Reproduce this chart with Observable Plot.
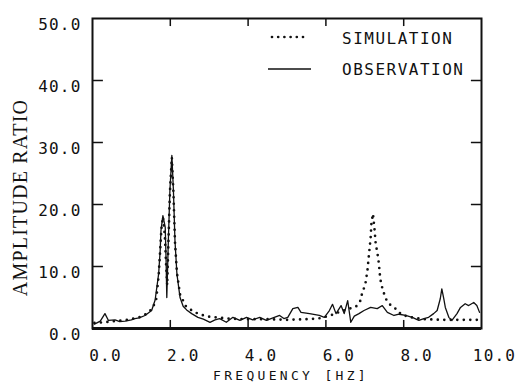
<!DOCTYPE html>
<html><head><meta charset="utf-8">
<script src="https://cdn.jsdelivr.net/npm/d3@7"></script>
<script src="https://cdn.jsdelivr.net/npm/@observablehq/plot@0.6"></script>
<style>
body{margin:0;background:#fff;}
#wrap{width:516px;height:383px;}
</style></head><body><div id="wrap"></div>
<script>
// tick values
const xTicks = [0, 2, 4, 6, 8, 10];
const yTicks = [0, 10, 20, 30, 40, 50];
const xInner = [2, 4, 6, 8];
const yInner = [10, 20, 30, 40];
const seriesNames = ["SIMULATION", "OBSERVATION"];
const xTitle = "FREQUENCY [HZ]";
const yTitle = "AMPLITUDE RATIO";

// [frequency Hz, amplitude ratio]
const observation = [
 [0.05,0.7],[0.2,1.2],[0.32,2.4],[0.41,1.3],[0.58,1.4],[0.7,1.1],[0.84,1.2],[1.0,1.4],[1.09,1.6],[1.2,1.7],
 [1.35,2.1],[1.52,2.9],[1.61,4.6],[1.70,8.8],[1.74,12.6],[1.76,15.8],[1.81,18.2],[1.87,16.3],[1.89,11.5],[1.91,5.0],
 [1.95,14.2],[1.99,22.3],[2.04,27.9],[2.08,22.3],[2.12,14.2],[2.17,8.8],[2.25,5.0],[2.33,3.6],[2.42,3.0],[2.55,2.4],
 [2.71,1.8],[2.85,1.5],[3.02,1.0],[3.15,1.4],[3.27,1.6],[3.44,1.0],[3.61,1.8],[3.79,1.3],[3.96,1.8],[4.12,1.4],
 [4.30,1.8],[4.47,1.3],[4.64,1.7],[4.81,2.1],[4.92,1.6],[5.02,1.8],[5.15,3.2],[5.28,3.4],[5.36,2.6],[5.58,2.4],
 [5.83,2.1],[5.96,1.8],[6.09,2.9],[6.17,3.9],[6.26,2.4],[6.39,3.7],[6.47,2.4],[6.56,4.5],[6.64,1.0],[6.73,2.0],
 [6.85,2.4],[6.98,2.9],[7.15,3.4],[7.32,3.2],[7.45,3.7],[7.58,2.6],[7.75,2.1],[7.88,2.3],[8.05,2.1],[8.22,1.8],
 [8.39,1.3],[8.52,1.6],[8.64,1.8],[8.77,2.4],[8.86,2.9],[8.94,4.8],[8.98,6.4],[9.03,4.8],[9.07,3.4],[9.16,1.8],
 [9.24,1.3],[9.37,2.4],[9.46,3.4],[9.58,4.0],[9.67,3.7],[9.80,4.2],[9.88,3.7],[9.95,2.6]
];
const simulation = [
 [0.05,0.9],[0.3,1.0],[0.6,1.2],[0.9,1.4],[1.2,1.8],[1.4,2.4],[1.55,3.3],[1.64,4.8],[1.70,8.5],[1.74,12.6],
 [1.77,16.0],[1.81,18.0],[1.86,15.0],[1.89,10.5],[1.92,7.0],[1.95,13.5],[1.99,22.0],[2.04,27.6],[2.08,22.0],[2.12,14.0],
 [2.17,9.0],[2.25,5.5],[2.4,3.6],[2.6,2.7],[2.8,2.2],[3.0,1.9],[3.5,1.6],[4.0,1.5],[4.5,1.5],[5.0,1.4],
 [5.5,1.5],[5.8,1.6],[6.0,1.9],[6.2,2.3],[6.4,2.8],[6.6,3.2],[6.77,3.5],[6.88,4.4],[6.94,5.9],[7.01,7.0],
 [7.04,8.2],[7.07,9.5],[7.09,10.8],[7.11,12.1],[7.13,13.4],[7.15,14.6],[7.17,17.0],[7.21,18.5],[7.25,16.0],[7.28,13.7],
 [7.32,12.3],[7.35,11.1],[7.37,9.9],[7.39,8.5],[7.42,7.2],[7.48,5.9],[7.54,4.8],[7.62,4.0],[7.79,3.2],[7.95,2.2],
 [8.2,1.8],[8.5,1.5],[9.0,1.4],[9.5,1.4],[9.95,1.4]
];

const mono = '"DejaVu Sans Mono", monospace';
const dotted = {stroke:"#111", strokeWidth:2.7, strokeDasharray:"0,6.5", strokeLinecap:"round"};

const chart = Plot.plot({
  width:516, height:383,
  marginLeft:92, marginRight:35, marginTop:18, marginBottom:55,
  style:{fontFamily:mono, fontSize:"16px", background:"#fff", color:"#111", letterSpacing:"1.2px"},
  x:{domain:[0,10]},
  y:{domain:[0,50]},
  marks:[
    Plot.axisX(xTicks, {tickSize:0, tickPadding:21, dx:13, tickFormat:d=>d.toFixed(1), label:null, fontSize:16}),
    Plot.axisY(yTicks, {tickSize:0, tickPadding:11, dy:6, tickFormat:d=>d.toFixed(1), label:null, fontSize:16}),
    Plot.line(simulation, {x:d=>d[0], y:d=>d[1], ...dotted}),
    Plot.line(observation, {x:d=>d[0], y:d=>d[1], stroke:"#111", strokeWidth:1.3}),
    Plot.ruleY(yInner, {y:d=>d, x1:0, x2:0.28, stroke:"#111", strokeWidth:1.5}),
    Plot.ruleY(yInner, {y:d=>d, x1:9.74, x2:10, stroke:"#111", strokeWidth:1.5}),
    Plot.ruleX(xInner, {x:d=>d, y1:0, y2:1.3, stroke:"#111", strokeWidth:1.5}),
    Plot.ruleX(xInner, {x:d=>d, y1:48.7, y2:50, stroke:"#111", strokeWidth:1.5}),
    Plot.frame({stroke:"#111", strokeWidth:2}),
    Plot.ruleY([0], {stroke:"#111", strokeWidth:3}),
    Plot.text([xTitle], {frameAnchor:"bottom", textAnchor:"middle", lineAnchor:"middle", dx:4, dy:47, fontSize:13, fontFamily:mono}),
    Plot.text([yTitle], {frameAnchor:"left", textAnchor:"middle", lineAnchor:"middle", rotate:-90, dx:-72, dy:24, fontSize:20, fontFamily:'"Liberation Serif", serif'})
  ]
});
document.getElementById("wrap").appendChild(chart);

// letter spacing tweaks
d3.select(chart).selectAll("text").each(function(){
  const t = d3.select(this).text();
  if (t === yTitle) d3.select(this).style("letter-spacing","1.2px");
  if (t === xTitle) d3.select(this).style("letter-spacing","3.3px");
});

// legend (inside the frame, upper right)
const svg = d3.select(chart);
const lg = svg.append("g").attr("font-family", mono).attr("font-size", 16).attr("fill", "#111")
  .attr("text-anchor", "start").style("letter-spacing", "1.5px");
lg.append("line").attr("x1",272).attr("x2",309).attr("y1",37).attr("y2",37)
  .attr("stroke","#111").attr("stroke-width",2.7).attr("stroke-dasharray","0,6.2").attr("stroke-linecap","round");
lg.append("line").attr("x1",268).attr("x2",311).attr("y1",69).attr("y2",69)
  .attr("stroke","#111").attr("stroke-width",1.3);
lg.append("text").attr("x",342).attr("y",44).text(seriesNames[0]);
lg.append("text").attr("x",342).attr("y",75).text(seriesNames[1]);
</script></body></html>
